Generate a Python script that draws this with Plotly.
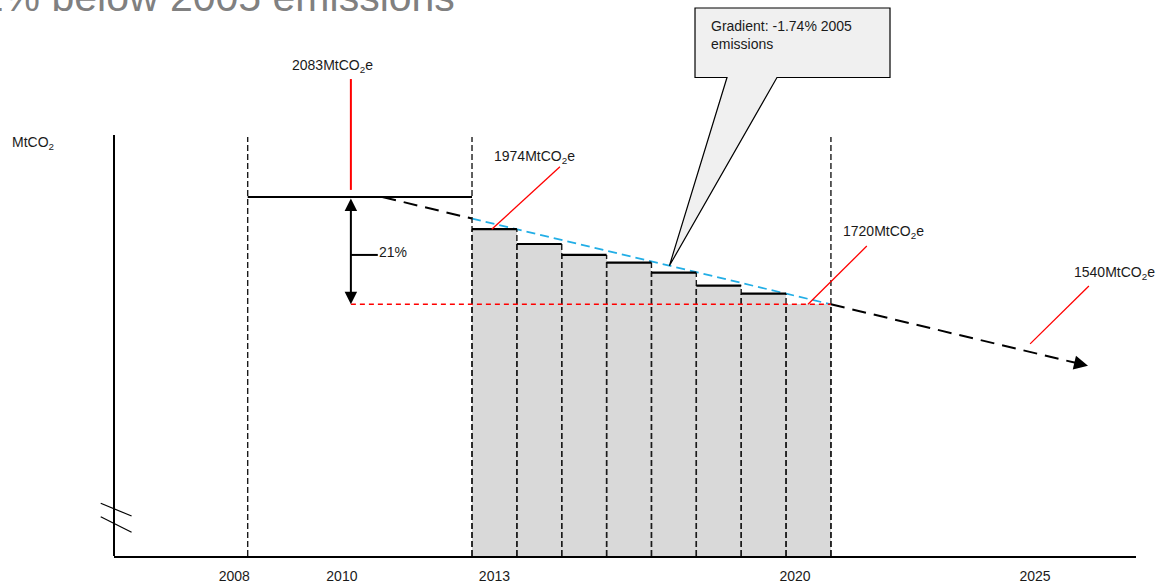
import numpy as np
import plotly.graph_objects as go

# ---- data -------------------------------------------------------------
# Phase III annual cap (MtCO2e), one bar per year
CAP_YEARS = [2013, 2014, 2015, 2016, 2017, 2018, 2019, 2020]
CAP_VALUES = [1974, 1924, 1887, 1861, 1827, 1783, 1756, 1720]

# Phase II average cap
PHASE2_START = 2008
PHASE2_END = 2013
PHASE2_AVERAGE = 2083
PHASE3_END = 2021
TARGET_2020 = 1720
LONG_TERM_VALUE = 1540
REDUCTION_LABEL = "21%"
GRADIENT_TEXT = "Gradient: -1.74% 2005<br>emissions"

# linear reduction path (-1.74% of 2005 emissions per year)
TREND_YEARS = [2011.0, 2013.0, 2021.0, 2026.45]
TREND_VALUES = [2083, 2010, 1720, 1522]
TREND_TIP = (2026.73, 1512)

# axis labels
TICK_YEARS = [2007.7, 2010.1, 2013.5, 2020.2, 2025.55]
TICK_TEXT = ["2008", "2010", "2013", "2020", "2025"]

MARK_YEAR = 2010.3          # position of the 2083 marker and the 21% arrow

# ---- styling ------------------------------------------------------------
X_RANGE = [2005.02, 2027.80]
Y_RANGE = [868.5, 2749.4]
FLOOR = Y_RANGE[0]
FONT = "Liberation Sans, Arial, sans-serif"
TXT = "#1a1a1a"
RED = "#ff0000"
BLUE = "#22aee6"
BAR_GREY = "#d9d9d9"
VLINE_TOP = 2286


def unit(v):
    return f"{v}MtCO<sub>2</sub>e"


def to_paper(year, value):
    return ((year - X_RANGE[0]) / (X_RANGE[1] - X_RANGE[0]),
            (value - Y_RANGE[0]) / (Y_RANGE[1] - Y_RANGE[0]))


fig = go.Figure()

# grey cap bars
fig.add_trace(go.Bar(
    x=[y + 0.5 for y in CAP_YEARS],
    y=[v - FLOOR for v in CAP_VALUES],
    base=FLOOR,
    width=1.0,
    marker=dict(color=BAR_GREY, line=dict(width=0)),
    hoverinfo="skip",
    showlegend=False,
))

# trend path: black dashed, blue dashed across Phase III, black dashed after
segments = [(0, 2, "black", 2.0, "14px,8px"),
            (1, 3, BLUE, 1.7, "9px,5px"),
            (2, 4, "black", 2.0, "14px,8px")]
for i0, i1, col, w, dash in segments:
    fig.add_trace(go.Scatter(
        x=TREND_YEARS[i0:i1], y=TREND_VALUES[i0:i1], mode="lines",
        line=dict(color=col, width=w, dash=dash),
        hoverinfo="skip", showlegend=False,
    ))

shapes = []


def seg(x0, y0, x1, y1, color="black", width=1.3, dash="solid", xref="x", yref="y"):
    shapes.append(dict(type="line", xref=xref, yref=yref, x0=x0, y0=y0, x1=x1, y1=y1,
                       line=dict(color=color, width=width, dash=dash), layer="above"))


# dashed period boundaries
for yr in (PHASE2_START, PHASE2_END, PHASE3_END):
    seg(yr, FLOOR, yr, VLINE_TOP, color="#1a1a1a", width=1.4, dash="6px,3px")

# bar edges and tops
for yr, val in zip(CAP_YEARS, CAP_VALUES):
    seg(yr, FLOOR, yr, val, color="#1a1a1a", width=1.4, dash="6px,3px")
    seg(yr + 1, FLOOR, yr + 1, val, color="#1a1a1a", width=1.4, dash="6px,3px")
    if val > TARGET_2020:
        seg(yr, val, yr + 1, val, width=2.2)

# Phase II average level
seg(PHASE2_START, PHASE2_AVERAGE, PHASE2_END, PHASE2_AVERAGE, width=2.2)

# 2020 target level
seg(MARK_YEAR, TARGET_2020, PHASE3_END, TARGET_2020, color=RED, width=1.5, dash="5px,4px")

# reduction bracket tick
mid = 1887
seg(MARK_YEAR, mid, MARK_YEAR + 0.6, mid, width=2)

# red leader lines
seg(MARK_YEAR, 2107, MARK_YEAR, 2482, color=RED, width=2)
seg(2013.44, CAP_VALUES[0], 2014.96, 2185, color=RED, width=1.3)
seg(2020.49, TARGET_2020, 2021.80, 1917, color=RED, width=1.3)
seg(2025.44, 1586, 2026.75, 1782, color=RED, width=1.3)

# y axis line and axis break marks
seg(0, 0, 0, 0.757, width=2, xref="paper", yref="paper")
seg(-0.013, 0.0948, 0.0172, 0.0719, width=1.2, xref="paper", yref="paper")
seg(-0.013, 0.0707, 0.0172, 0.0426, width=1.2, xref="paper", yref="paper")

# gradient callout with a pointer onto the trend line
tip_year = 2017.4
tip_x, tip_y = to_paper(tip_year, float(np.interp(tip_year, TREND_YEARS, TREND_VALUES)))
L, R, T, B = 0.5685, 0.7593, 0.9856, 0.8606
t1, t2 = 0.5998, 0.6487
path = (f"M {L},{B} L {L},{T} L {R},{T} L {R},{B} L {t2},{B} "
        f"L {tip_x},{tip_y} L {t1},{B} Z")
shapes.append(dict(type="path", xref="paper", yref="paper", path=path,
                   fillcolor="#f0f0f0", line=dict(color="black", width=1.2), layer="above"))

annotations = [
    dict(text="21% below 2005 emissions", xref="paper", yref="paper",
         x=0.3357, y=0.9604, xanchor="right", yanchor="bottom", showarrow=False,
         font=dict(size=41, color="#808080", family=FONT)),
    dict(text="MtCO<sub>2</sub>", xref="paper", yref="paper", x=-0.102, y=0.743,
         xanchor="left", yanchor="middle", showarrow=False,
         font=dict(size=14, color=TXT, family=FONT)),
    dict(text=GRADIENT_TEXT, xref="paper", yref="paper", x=0.5822, y=0.9712,
         xanchor="left", yanchor="top", align="left", showarrow=False,
         font=dict(size=14, color=TXT, family=FONT)),
    dict(text=unit(PHASE2_AVERAGE), x=2009.88, y=2526, showarrow=False,
         font=dict(size=14, color=TXT, family=FONT)),
    dict(text=unit(CAP_VALUES[0]), x=2014.4, y=2218, showarrow=False,
         font=dict(size=14, color=TXT, family=FONT)),
    dict(text=unit(TARGET_2020), x=2022.17, y=1966, showarrow=False,
         font=dict(size=14, color=TXT, family=FONT)),
    dict(text=unit(LONG_TERM_VALUE), x=2027.33, y=1827, showarrow=False,
         font=dict(size=14, color=TXT, family=FONT)),
    dict(text=REDUCTION_LABEL, x=MARK_YEAR + 0.58, y=1897, xanchor="left",
         showarrow=False, font=dict(size=14, color=TXT, family=FONT)),
    # double-headed reduction arrow
    dict(text="", x=MARK_YEAR, y=TARGET_2020, ax=MARK_YEAR, ay=PHASE2_AVERAGE,
         xref="x", yref="y", axref="x", ayref="y", showarrow=True,
         arrowside="end+start", arrowhead=2, startarrowhead=2, arrowsize=1.25,
         startarrowsize=1.25, arrowwidth=2, arrowcolor="black",
         standoff=0, startstandoff=0),
    # arrow at the end of the trend
    dict(text="", x=TREND_TIP[0], y=TREND_TIP[1], ax=TREND_YEARS[-1], ay=TREND_VALUES[-1],
         xref="x", yref="y", axref="x", ayref="y", showarrow=True,
         arrowhead=2, arrowsize=1.4, arrowwidth=2, arrowcolor="black", standoff=0),
]

fig.update_layout(
    width=1163, height=583,
    margin=dict(l=114, r=27, t=0, b=27),
    paper_bgcolor="white", plot_bgcolor="white",
    font=dict(family=FONT, color=TXT, size=14),
    shapes=shapes, annotations=annotations,
    bargap=0,
    xaxis=dict(range=X_RANGE, showgrid=False, zeroline=False, showline=True,
               linecolor="black", linewidth=2, ticks="",
               tickvals=TICK_YEARS, ticktext=TICK_TEXT, ticklabelstandoff=6,
               tickfont=dict(size=14, color=TXT, family=FONT)),
    yaxis=dict(range=Y_RANGE, showgrid=False, zeroline=False, showline=False,
               showticklabels=False, ticks=""),
)

fig.write_html("out.html")
